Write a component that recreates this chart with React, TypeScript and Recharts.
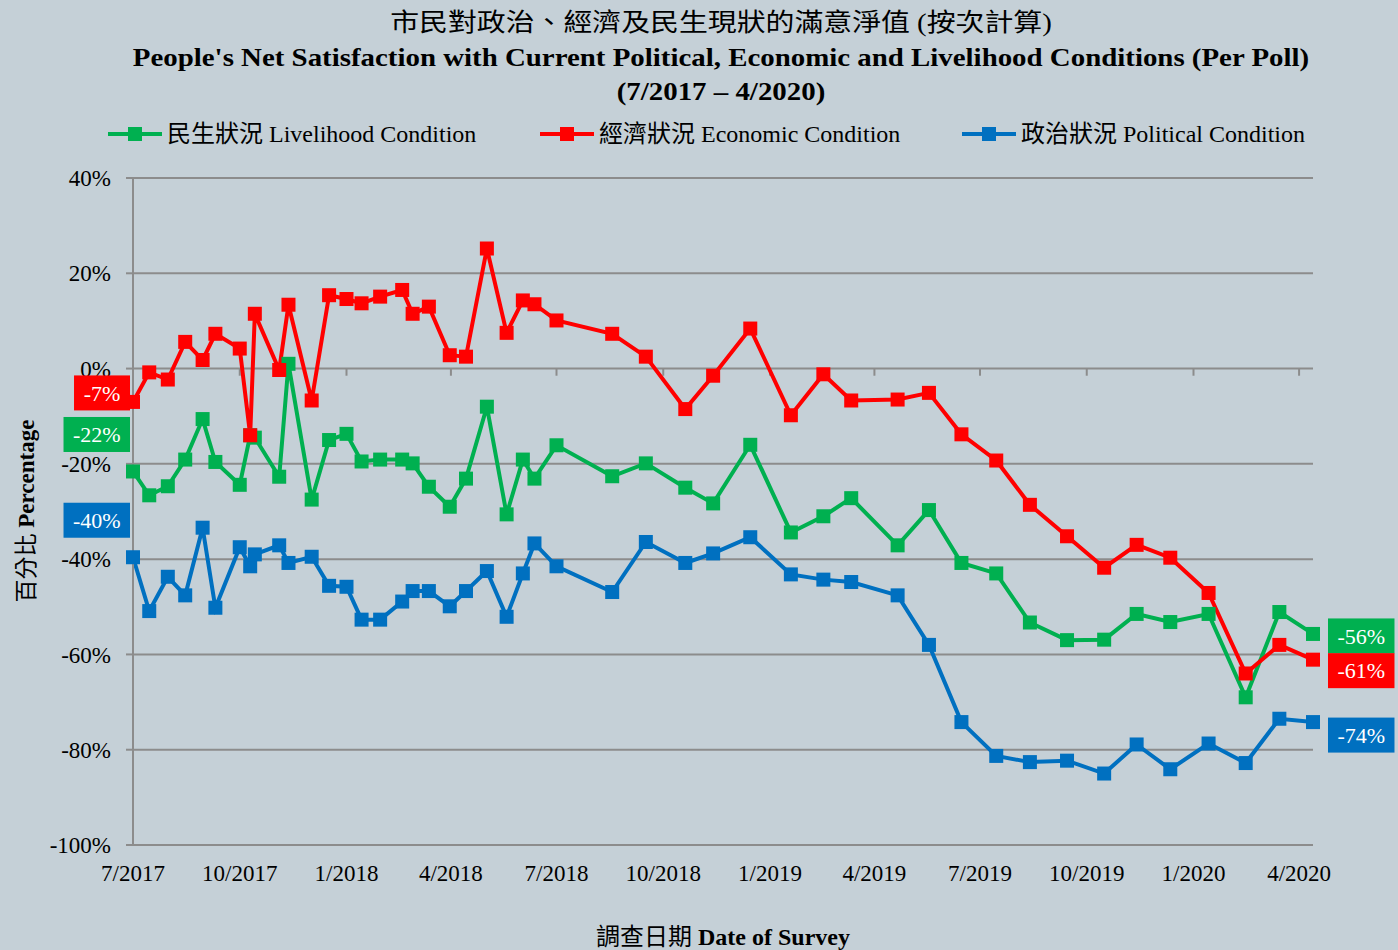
import { LineChart, Line, XAxis, YAxis, CartesianGrid, ReferenceLine, LabelList } from 'recharts'

// ─── Data ────────────────────────────────────────────────────────────────────
const surveyDates = [
  '2017-07-01', '2017-07-15', '2017-07-31', '2017-08-15', '2017-08-30', '2017-09-10',
  '2017-10-01', '2017-10-10', '2017-10-14', '2017-11-04', '2017-11-12', '2017-12-02',
  '2017-12-17', '2018-01-01', '2018-01-14', '2018-01-30', '2018-02-18', '2018-02-27',
  '2018-03-13', '2018-03-31', '2018-04-14', '2018-05-02', '2018-05-19', '2018-06-02',
  '2018-06-12', '2018-07-01', '2018-08-18', '2018-09-16', '2018-10-20', '2018-11-13',
  '2018-12-15', '2019-01-19', '2019-02-16', '2019-03-12', '2019-04-21', '2019-05-18',
  '2019-06-15', '2019-07-15', '2019-08-13', '2019-09-14', '2019-10-16', '2019-11-13',
  '2019-12-12', '2020-01-14', '2020-02-15', '2020-03-15', '2020-04-13',
]

const livelihood = [
  -21.6, -26.6, -24.7, -19.1, -10.6, -19.6, -24.4, -14.0, -14.5, -22.7, 1.0, -27.5,
  -15.0, -13.7, -19.5, -19.1, -19.1, -19.9, -24.8, -29.0, -23.1, -8.0, -30.6, -19.1,
  -23.1, -16.1, -22.6, -19.9, -25.0, -28.3, -16.0, -34.4, -31.0, -27.2, -37.1, -29.7,
  -40.8, -43.0, -53.3, -57.0, -56.9, -51.5, -53.2, -51.5, -69.0, -51.1, -55.7,
]

const economic = [
  -7.0, -0.8, -2.3, 5.6, 1.8, 7.3, 4.2, -14.0, 11.5, -0.3, 13.4, -6.7,
  15.4, 14.6, 13.7, 15.1, 16.5, 11.5, 13.0, 2.8, 2.5, 25.2, 7.5, 14.3,
  13.5, 10.1, 7.3, 2.5, -8.5, -1.5, 8.4, -9.8, -1.2, -6.7, -6.5, -5.1,
  -13.8, -19.3, -28.6, -35.2, -41.8, -37.0, -39.7, -47.1, -64.0, -58.0, -61.1,
]

const political = [
  -39.6, -50.9, -43.7, -47.6, -33.4, -50.2, -37.5, -41.5, -39.0, -37.1, -40.8, -39.5,
  -45.6, -45.8, -52.7, -52.7, -48.9, -46.7, -46.7, -49.9, -46.7, -42.5, -52.1, -43.0,
  -36.7, -41.5, -46.9, -36.4, -40.8, -38.8, -35.4, -43.2, -44.3, -44.8, -47.6, -58.0,
  -74.2, -81.3, -82.6, -82.3, -85.0, -78.9, -84.1, -78.7, -82.8, -73.5, -74.2,
]

const xTickDates = [
  '2017-07-01', '2017-10-01', '2018-01-01', '2018-04-01', '2018-07-01', '2018-10-01',
  '2019-01-01', '2019-04-01', '2019-07-01', '2019-10-01', '2020-01-01', '2020-04-01',
]
const xTickLabels = [
  '7/2017', '10/2017', '1/2018', '4/2018', '7/2018', '10/2018',
  '1/2019', '4/2019', '7/2019', '10/2019', '1/2020', '4/2020',
]
const yTicks = [40, 20, 0, -20, -40, -60, -80, -100]

// ─── Styling ─────────────────────────────────────────────────────────────────
const SERIF = "'Liberation Serif', 'Noto Sans CJK TC', serif"
const BG = '#C5D0D7'
const GRID = '#8C8C8C'

const SERIES = [
  { key: 'livelihood', zh: '民生狀況', en: 'Livelihood Condition', color: '#00B050', firstDy: -37, lastDy: 2 },
  { key: 'economic', zh: '經濟狀況', en: 'Economic Condition', color: '#FF0000', firstDy: -9, lastDy: 11 },
  { key: 'political', zh: '政治狀況', en: 'Political Condition', color: '#0070C0', firstDy: -37, lastDy: 13 },
]

const toTime = (s: string) => {
  const [y, m, d] = s.split('-').map(Number)
  return Date.UTC(y, m - 1, d)
}

const xTicks = xTickDates.map(toTime)
const tickLabelOf: Record<number, string> = {}
xTicks.forEach((t, i) => { tickLabelOf[t] = xTickLabels[i] })

const data = surveyDates.map((d, i) => ({
  t: toTime(d),
  livelihood: livelihood[i],
  economic: economic[i],
  political: political[i],
}))

// ─── Marks ───────────────────────────────────────────────────────────────────
function SquareDot({ cx, cy, fill }: any) {
  if (cx == null || cy == null) return null
  return <rect x={cx - 7} y={cy - 7} width={14} height={14} fill={fill} />
}

const charW = (c: string) => (c === '-' ? 0.333 : c === '%' ? 0.833 : 0.5)

function EndLabel(props: any) {
  const { index, value, color, firstDy, lastDy } = props
  const x = props.x ?? props.viewBox?.x
  const y = props.y ?? props.viewBox?.y
  const last = data.length - 1
  if (index !== 0 && index !== last) return null
  const text = `${Math.round(value)}%`
  const fs = 22
  const w = text.split('').reduce((s, c) => s + charW(c) * 21, 0) + 21
  const h = 35
  const left = index === 0 ? x - 3 - w : x + 15
  const cy = y + (index === 0 ? firstDy : lastDy)
  return (
    <g>
      <rect x={left} y={cy - h / 2} width={w} height={h} fill={color} />
      <text x={left + w / 2} y={cy} dy="0.35em" textAnchor="middle" fill="#fff"
        fontSize={fs} fontFamily={SERIF}>{text}</text>
    </g>
  )
}

function LegendKey({ color }: { color: string }) {
  return (
    <svg width={54} height={16} style={{ marginRight: 5, verticalAlign: 'middle' }}>
      <line x1={0} y1={8} x2={54} y2={8} stroke={color} strokeWidth={4} />
      <rect x={20} y={1} width={14} height={14} fill={color} />
    </svg>
  )
}

const titleLine = (top: number, bold: boolean): React.CSSProperties => ({
  position: 'absolute', left: 721, top, transform: 'translateX(-50%) scaleX(1.155)',
  whiteSpace: 'nowrap', fontSize: 25, lineHeight: '34px', fontWeight: bold ? 'bold' : 'normal',
})

// ─── Chart ───────────────────────────────────────────────────────────────────
export default function App() {
  const legendX = [108, 540, 962]
  return (
    <div style={{ position: 'absolute', left: 0, top: 0, width: 1398, height: 950, background: BG, overflow: 'hidden', fontFamily: SERIF, color: '#000' }}>
      <div style={titleLine(6, false)}>市民對政治、經濟及民生現狀的滿意淨值 (按次計算)</div>
      <div style={titleLine(41, true)}>
        People's Net Satisfaction with Current Political, Economic and Livelihood Conditions (Per Poll)
      </div>
      <div style={titleLine(75, true)}>(7/2017 – 4/2020)</div>

      {SERIES.map((s, i) => (
        <div key={s.key} style={{ position: 'absolute', left: legendX[i], top: 118, whiteSpace: 'nowrap', fontSize: 24, lineHeight: '28px' }}>
          <LegendKey color={s.color} />
          <span style={{ verticalAlign: 'middle' }}>{s.zh} {s.en}</span>
        </div>
      ))}

      <div style={{ position: 'absolute', left: 27, top: 511, transform: 'translate(-50%, -50%) rotate(-90deg)', whiteSpace: 'nowrap', fontSize: 23, lineHeight: '28px' }}>
        百分比 <b>Percentage</b>
      </div>
      <div style={{ position: 'absolute', left: 723, top: 937, transform: 'translate(-50%, -50%)', whiteSpace: 'nowrap', fontSize: 24, lineHeight: '28px' }}>
        調查日期 <b>Date of Survey</b>
      </div>

      <div style={{ position: 'absolute', left: 0, top: 0 }}>
        <LineChart width={1398} height={950} data={data} margin={{ top: 178, right: 85, bottom: 45, left: 13 }}>
          <CartesianGrid vertical={false} stroke={GRID} strokeWidth={2} />
          <XAxis
            dataKey="t"
            type="number"
            scale="linear"
            domain={[toTime('2017-07-01'), toTime('2020-04-13')]}
            ticks={xTicks}
            interval={0}
            tickFormatter={(t: number) => tickLabelOf[t] ?? ''}
            axisLine={false}
            tickLine={false}
            tickSize={8}
            tickMargin={12}
            height={60}
            tick={{ fill: '#000', fontSize: 23, fontFamily: SERIF }}
          />
          <YAxis
            domain={[-100, 40]}
            ticks={yTicks}
            interval={0}
            allowDataOverflow
            width={120}
            tickFormatter={(v: number) => `${v}%`}
            axisLine={{ stroke: GRID, strokeWidth: 2 }}
            tickLine={{ stroke: GRID, strokeWidth: 2 }}
            tickSize={7}
            tickMargin={15}
            tick={{ fill: '#000', fontSize: 23, fontFamily: SERIF }}
          />
          {xTicks.map(t => (
            <ReferenceLine key={t} segment={[{ x: t, y: 0 }, { x: t, y: -1.5 }]} stroke={GRID} strokeWidth={2} ifOverflow="visible" />
          ))}
          {SERIES.map(s => (
            <Line
              key={s.key}
              type="linear"
              dataKey={s.key}
              stroke={s.color}
              strokeWidth={4}
              dot={<SquareDot fill={s.color} />}
              activeDot={false}
              isAnimationActive={false}
            >
              <LabelList dataKey={s.key} content={(p: any) => <EndLabel {...p} color={s.color} firstDy={s.firstDy} lastDy={s.lastDy} />} />
            </Line>
          ))}
        </LineChart>
      </div>
    </div>
  )
}
